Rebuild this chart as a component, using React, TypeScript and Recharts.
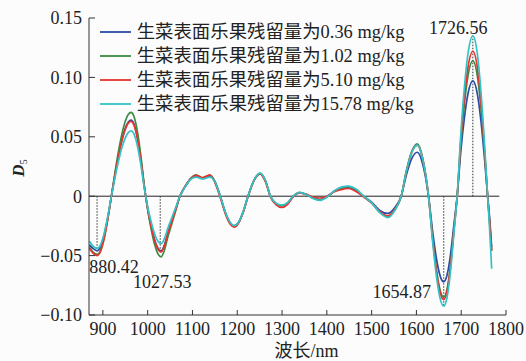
import React from 'react';
import { LineChart, Line, XAxis, YAxis, ReferenceLine, ReferenceDot } from 'recharts';

const FONT = "'Liberation Serif', 'Times New Roman', 'Noto Sans CJK SC', serif";

const wavelengths = [
  870, 878, 887, 895, 903, 911, 919, 927, 935, 943, 951, 957, 963, 969, 976, 984, 992, 1000, 1008, 1016,
  1023, 1030, 1037, 1045, 1053, 1062, 1072,
  1085, 1097, 1108, 1122, 1139, 1150, 1162, 1175, 1184, 1193, 1203, 1213, 1224, 1238, 1251, 1263, 1274, 1287,
  1299, 1312, 1325,
  1339, 1355, 1370, 1384, 1400, 1418, 1434, 1448, 1465, 1482, 1500, 1518, 1536, 1552, 1566,
  1578, 1590, 1602, 1614, 1627, 1637, 1646, 1654, 1661, 1668, 1676, 1684, 1691, 1699, 1707, 1715, 1726, 1736,
  1744, 1752, 1759, 1764, 1768,
];

const series036 = [
  -0.041, -0.044, -0.046, -0.0425, -0.0325, -0.0176, 0, 0.018, 0.0346, 0.0484, 0.0582, 0.0625, 0.064, 0.0612,
  0.0514, 0.0329, 0.0094, -0.0102, -0.0253, -0.0372, -0.0437, -0.046, -0.0414, -0.031, -0.0219, -0.0115, 0,
  0.009, 0.015, 0.017, 0.015, 0.017, 0.0124, 0, -0.0153, -0.0224, -0.025, -0.0219, -0.0133, 0, 0.0138, 0.019,
  0.013, 0, -0.0065, -0.008, -0.006, 0,
  0.003, 0.0015, -0.0015, -0.003, -0.0005, 0.0045, 0.007, 0.0075, 0.005, 0, -0.005, -0.012, -0.0145, -0.0095, 0,
  0.0185, 0.032, 0.037, 0.027, 0, -0.0321, -0.0554, -0.0683, -0.072, -0.0669, -0.0495, -0.023, 0, 0.0372, 0.0656,
  0.086, 0.097, 0.0862, 0.0635, 0.0318, 0, -0.021, -0.043,
];

const series102 = [
  -0.043, -0.047, -0.049, -0.0453, -0.0346, -0.0188, 0, 0.0199, 0.0381, 0.0533, 0.0642, 0.0689, 0.0705, 0.0675,
  0.0566, 0.0362, 0.0104, -0.0113, -0.0281, -0.0413, -0.0485, -0.051, -0.0459, -0.0344, -0.0242, -0.0128, 0,
  0.009, 0.0155, 0.018, 0.0155, 0.0175, 0.0125, 0, -0.0155, -0.0228, -0.0255, -0.0222, -0.0135, 0, 0.014, 0.0192,
  0.013, 0, -0.0065, -0.0082, -0.006, 0,
  0.003, 0.0012, -0.0018, -0.0032, -0.0006, 0.0045, 0.0072, 0.008, 0.0055, 0, -0.0055, -0.0135, -0.0175, -0.0115, 0,
  0.022, 0.0381, 0.044, 0.0321, 0, -0.0379, -0.0654, -0.0806, -0.085, -0.079, -0.0585, -0.0272, 0, 0.0437, 0.0771,
  0.1011, 0.114, 0.1013, 0.0747, 0.0374, 0, -0.024, -0.046,
];

const series510 = [
  -0.044, -0.048, -0.05, -0.0462, -0.0354, -0.0192, 0, 0.0178, 0.0341, 0.0476, 0.0573, 0.0616, 0.063, 0.0603,
  0.0506, 0.0324, 0.0093, -0.0105, -0.0259, -0.038, -0.0447, -0.047, -0.0423, -0.0317, -0.0223, -0.0118, 0,
  0.009, 0.015, 0.0175, 0.0155, 0.018, 0.0115, -0.001, -0.0165, -0.0235, -0.026, -0.0225, -0.0138, -0.0005, 0.0135,
  0.0188, 0.012, -0.0005, -0.0072, -0.0095, -0.007, -0.0005,
  0.0028, 0.0015, -0.001, -0.0015, 0, 0.004, 0.0058, 0.0065, 0.004, -0.0005, -0.0058, -0.013, -0.0165, -0.011, 0,
  0.0215, 0.0372, 0.043, 0.0313, 0, -0.0388, -0.0669, -0.0825, -0.087, -0.0808, -0.0599, -0.0278, 0, 0.0467, 0.0825,
  0.1082, 0.122, 0.1085, 0.0799, 0.04, 0, -0.025, -0.046,
];

const series1578 = [
  -0.038, -0.042, -0.044, -0.0407, -0.0311, -0.0169, 0, 0.0155, 0.0298, 0.0416, 0.05, 0.0537, 0.055, 0.0526,
  0.0442, 0.0283, 0.0081, -0.0089, -0.022, -0.0324, -0.038, -0.04, -0.036, -0.027, -0.019, -0.01, 0,
  0.0085, 0.0145, 0.016, 0.0145, 0.016, 0.012, 0, -0.015, -0.022, -0.0248, -0.0218, -0.0132, 0, 0.014, 0.0195,
  0.0132, 0, -0.006, -0.0075, -0.0055, 0,
  0.0032, 0.0012, -0.002, -0.0035, -0.0008, 0.0048, 0.0078, 0.0085, 0.006, 0.0002, -0.0055, -0.0138, -0.018, -0.0118, 0,
  0.0215, 0.0372, 0.043, 0.0313, 0, -0.0413, -0.0711, -0.0877, -0.0925, -0.0859, -0.0636, -0.0296, 0, 0.0517, 0.0913,
  0.1197, 0.135, 0.12, 0.0884, 0.0443, 0, -0.032, -0.061,
];

const seriesKeys = ['s036', 's102', 's510', 's1578'];
const seriesValues = [series036, series102, series510, series1578];
const seriesNames = [
  '生菜表面乐果残留量为0.36 mg/kg',
  '生菜表面乐果残留量为1.02 mg/kg',
  '生菜表面乐果残留量为5.10 mg/kg',
  '生菜表面乐果残留量为15.78 mg/kg',
];
const seriesColors = ['#2b4ba6', '#3b8b42', '#e8332f', '#35c2c6'];

const xTicks = [900, 1000, 1100, 1200, 1300, 1400, 1500, 1600, 1700, 1800];
const yTicks = [-0.1, -0.05, 0, 0.05, 0.1, 0.15];

// annotated peaks: dotted line position and extent, label text and label position
const markerX = [887, 1028, 1661, 1726];
const markerEnd = [-0.044, -0.048, -0.0925, 0.135];
const markerLabels = ['880.42', '1027.53', '1654.87', '1726.56'];
const markerLabelX = [869.5, 1032.5, 1567.5, 1693.5];
const markerLabelY = [-0.0597, -0.072, -0.0805, 0.1415];
const markerLabelAnchor = ['start', 'middle', 'middle', 'middle'];

const zeroLineRange = [869, 1785];

const chartData = wavelengths.map((w, i) => {
  const row: Record<string, number> = { w };
  seriesKeys.forEach((k, j) => {
    row[k] = seriesValues[j][i];
  });
  return row;
});

const yFormat = (v: number) => (v === 0 ? '0' : (v < 0 ? '\u2212' : '') + Math.abs(v).toFixed(2));

const XTitle = (props: any) => {
  const { x, y, width } = props.viewBox;
  return (
    <text x={x + width / 2 + 9} y={y + 36} textAnchor="middle" dominantBaseline="central" fontSize={18} fontFamily={FONT} fill="#222">
      波长/nm
    </text>
  );
};

const YTitle = (props: any) => {
  const { x, y, height } = props.viewBox;
  const cx = x - 5;
  const cy = y + height / 2 + 1.5;
  return (
    <text transform={`rotate(-90 ${cx} ${cy})`} x={cx} y={cy} textAnchor="middle" fontSize={17} fontFamily={FONT} fill="#222">
      <tspan fontStyle="italic" fontWeight="bold">D</tspan>
      <tspan fontSize={10} dy={2.5}>5</tspan>
    </text>
  );
};

const makePeakLabel = (text: string, anchor: string) => (props: any) => {
  const { x, y } = props.viewBox;
  return (
    <text x={x} y={y} textAnchor={anchor} dominantBaseline="central" fontSize={18} fontFamily={FONT} fill="#222">
      {text}
    </text>
  );
};

export default function App() {
  return (
    <div style={{ position: 'relative', width: 526, height: 361, background: '#fcfcfc' }}>
      <style>{'body{margin:0}'}</style>
      <LineChart width={526} height={361} data={chartData} margin={{ top: 18, right: 20, bottom: 0, left: 29 }}>
        <XAxis
          type="number"
          dataKey="w"
          domain={[869, 1800]}
          ticks={xTicks}
          interval={0}
          allowDataOverflow
          height={46}
          tickSize={-5}
          tickMargin={12}
          stroke="#333"
          tick={{ fill: '#222', fontSize: 18, fontFamily: FONT }}
          label={<XTitle />}
        />
        <YAxis
          type="number"
          domain={[-0.1, 0.15]}
          ticks={yTicks}
          interval={0}
          allowDataOverflow
          width={60}
          tickSize={-6}
          tickMargin={13}
          stroke="#333"
          tickFormatter={yFormat}
          tick={{ fill: '#222', fontSize: 18, fontFamily: FONT }}
          label={<YTitle />}
        />
        <ReferenceLine
          segment={[{ x: zeroLineRange[0], y: 0 }, { x: zeroLineRange[1], y: 0 }]}
          stroke="#222"
          strokeWidth={1}
        />
        {markerX.map((mx, i) => (
          <ReferenceLine
            key={'m' + i}
            segment={[{ x: mx, y: 0 }, { x: mx, y: markerEnd[i] }]}
            stroke="#333"
            strokeWidth={1}
            strokeDasharray="1.5 1.5"
          />
        ))}
        {seriesKeys.map((k, i) => (
          <Line
            key={k}
            type="monotone"
            dataKey={k}
            name={seriesNames[i]}
            stroke={seriesColors[i]}
            strokeWidth={1.7}
            dot={false}
            isAnimationActive={false}
          />
        ))}
        {markerLabels.map((t, i) => (
          <ReferenceDot
            key={'l' + i}
            x={markerLabelX[i]}
            y={markerLabelY[i]}
            r={0}
            fill="none"
            stroke="none"
            label={makePeakLabel(t, markerLabelAnchor[i])}
          />
        ))}
      </LineChart>
      <div
        style={{
          position: 'absolute',
          left: 100,
          top: 19.6,
          fontFamily: FONT,
          fontSize: 18.4,
          color: '#222',
        }}
      >
        {seriesNames.map((n, i) => (
          <div key={n} style={{ display: 'flex', alignItems: 'center', height: 24.1, whiteSpace: 'nowrap' }}>
            <svg width={31} height={4} style={{ marginRight: 5.7, display: 'block' }}>
              <line x1={0} y1={2} x2={31} y2={2} stroke={seriesColors[i]} strokeWidth={1.8} />
            </svg>
            <span style={{ lineHeight: '24.1px' }}>{n}</span>
          </div>
        ))}
      </div>
    </div>
  );
}
